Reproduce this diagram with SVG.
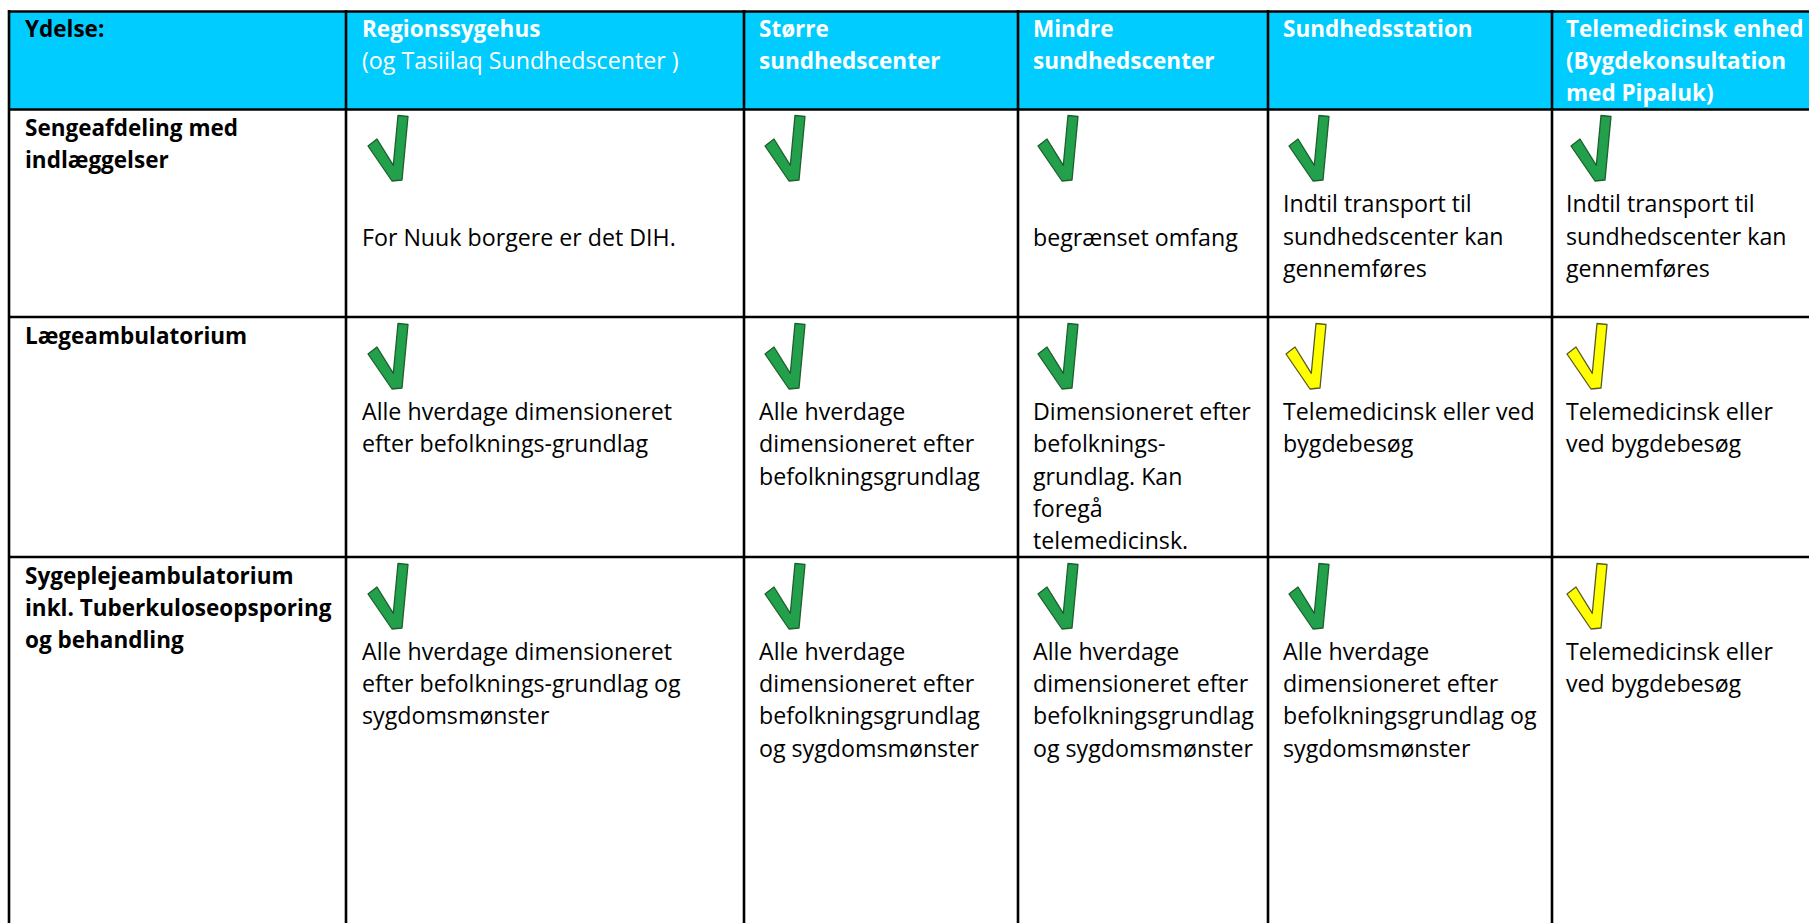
<svg xmlns="http://www.w3.org/2000/svg" width="1809" height="923" viewBox="0 0 1809 923">
<style>
text{font-family:"Open Sans","Noto Sans",sans-serif;font-size:23.2px;fill:#000}
.b{font-weight:bold;font-size:22.5px}
.h{fill:#fff}
.grid line{stroke:#000;stroke-width:2.6}
.g{fill:#22a04b;stroke:#1d5f2e;stroke-width:1.3;stroke-linejoin:round}
.y{fill:#ffff00;stroke:#5a5a20;stroke-width:1.3;stroke-linejoin:round}
</style>
<defs>
<path id="chk" d="M1,32 L25,67 L35,66 L41,2.5 L31,1.5 L26.3,51.3 L10,25 Z"/>
</defs>
<rect width="1809" height="923" fill="#fff"/>
<rect x="9" y="11.5" width="1800" height="98" fill="#00ccff"/>
<g id="connectors" class="grid">
<line x1="9" y1="11.5" x2="1809" y2="11.5"/>
<line x1="9" y1="109.5" x2="1809" y2="109.5"/>
<line x1="9" y1="317" x2="1809" y2="317"/>
<line x1="9" y1="557" x2="1809" y2="557"/>
<line x1="9" y1="10" x2="9" y2="923"/>
<line x1="346" y1="10" x2="346" y2="923"/>
<line x1="744" y1="10" x2="744" y2="923"/>
<line x1="1018" y1="10" x2="1018" y2="923"/>
<line x1="1268" y1="10" x2="1268" y2="923"/>
<line x1="1552" y1="10" x2="1552" y2="923"/>
</g>
<g id="header">
<text class="b" x="25" y="37">Ydelse:</text>
<text class="b h" x="362" y="37">Regionssygehus</text>
<text class="h" x="362" y="69">(og Tasiilaq Sundhedscenter )</text>
<text class="b h" x="759" y="37">Større</text>
<text class="b h" x="759" y="69">sundhedscenter</text>
<text class="b h" x="1033" y="37">Mindre</text>
<text class="b h" x="1033" y="69">sundhedscenter</text>
<text class="b h" x="1283" y="37">Sundhedsstation</text>
<text class="b h" x="1566" y="37">Telemedicinsk enhed</text>
<text class="b h" x="1566" y="69">(Bygdekonsultation</text>
<text class="b h" x="1566" y="101">med Pipaluk)</text>
</g>
<g id="row1">
<text class="b" x="25" y="136">Sengeafdeling med</text>
<text class="b" x="25" y="168">indlæggelser</text>
<use href="#chk" class="g" x="367" y="114"/>
<use href="#chk" class="g" x="764" y="114"/>
<use href="#chk" class="g" x="1037" y="114"/>
<use href="#chk" class="g" x="1288" y="114"/>
<use href="#chk" class="g" x="1570" y="114"/>
<text x="362" y="246">For Nuuk borgere er det DIH.</text>
<text x="1033" y="246">begrænset omfang</text>
<text x="1283" y="212">Indtil transport til</text>
<text x="1283" y="245">sundhedscenter kan</text>
<text x="1283" y="277">gennemføres</text>
<text x="1566" y="212">Indtil transport til</text>
<text x="1566" y="245">sundhedscenter kan</text>
<text x="1566" y="277">gennemføres</text>
</g>
<g id="row2">
<text class="b" x="25" y="344">Lægeambulatorium</text>
<use href="#chk" class="g" x="367" y="322"/>
<use href="#chk" class="g" x="764" y="322"/>
<use href="#chk" class="g" x="1037" y="322"/>
<use href="#chk" class="y" x="1285" y="322"/>
<use href="#chk" class="y" x="1566" y="322"/>
<text x="362" y="420">Alle hverdage dimensioneret</text>
<text x="362" y="452">efter befolknings-grundlag</text>
<text x="759" y="420">Alle hverdage</text>
<text x="759" y="452">dimensioneret efter</text>
<text x="759" y="485">befolkningsgrundlag</text>
<text x="1033" y="420">Dimensioneret efter</text>
<text x="1033" y="452">befolknings-</text>
<text x="1033" y="485">grundlag. Kan</text>
<text x="1033" y="517">foregå</text>
<text x="1033" y="549">telemedicinsk.</text>
<text x="1283" y="420">Telemedicinsk eller ved</text>
<text x="1283" y="452">bygdebesøg</text>
<text x="1566" y="420">Telemedicinsk eller</text>
<text x="1566" y="452">ved bygdebesøg</text>
</g>
<g id="row3">
<text class="b" x="25" y="584">Sygeplejeambulatorium</text>
<text class="b" x="25" y="616">inkl. Tuberkuloseopsporing</text>
<text class="b" x="25" y="648">og behandling</text>
<use href="#chk" class="g" x="367" y="562"/>
<use href="#chk" class="g" x="764" y="562"/>
<use href="#chk" class="g" x="1037" y="562"/>
<use href="#chk" class="g" x="1288" y="562"/>
<use href="#chk" class="y" x="1566" y="562"/>
<text x="362" y="660">Alle hverdage dimensioneret</text>
<text x="362" y="692">efter befolknings-grundlag og</text>
<text x="362" y="724">sygdomsmønster</text>
<text x="759" y="660">Alle hverdage</text>
<text x="759" y="692">dimensioneret efter</text>
<text x="759" y="724">befolkningsgrundlag</text>
<text x="759" y="757">og sygdomsmønster</text>
<text x="1033" y="660">Alle hverdage</text>
<text x="1033" y="692">dimensioneret efter</text>
<text x="1033" y="724">befolkningsgrundlag</text>
<text x="1033" y="757">og sygdomsmønster</text>
<text x="1283" y="660">Alle hverdage</text>
<text x="1283" y="692">dimensioneret efter</text>
<text x="1283" y="724">befolkningsgrundlag og</text>
<text x="1283" y="757">sygdomsmønster</text>
<text x="1566" y="660">Telemedicinsk eller</text>
<text x="1566" y="692">ved bygdebesøg</text>
</g>
</svg>
